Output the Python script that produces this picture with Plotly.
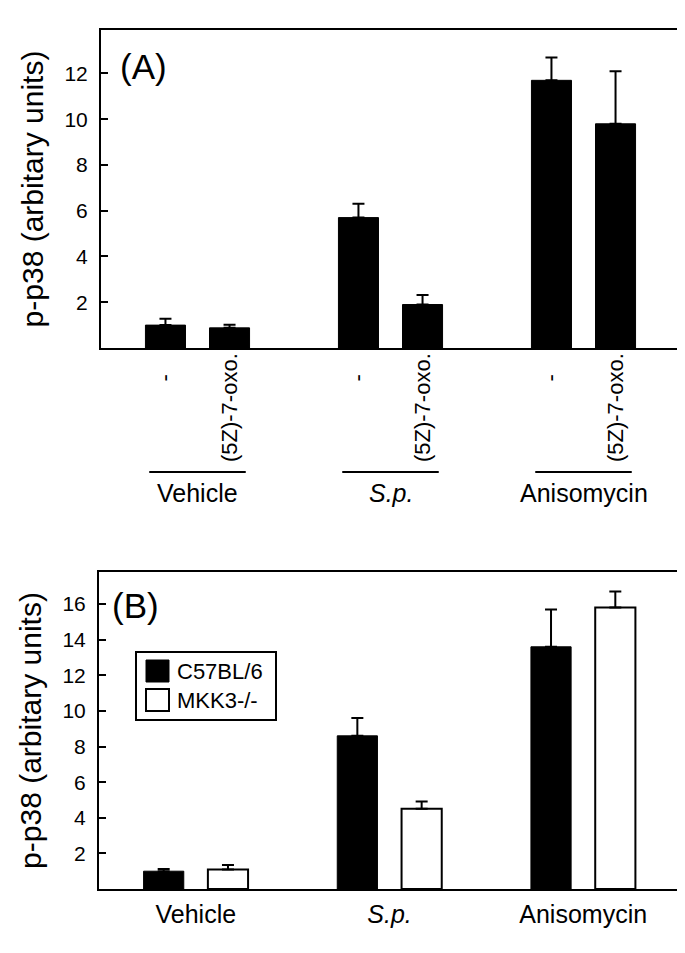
import plotly.graph_objects as go

# ---- data ----
groups = ["Vehicle", "S.p.", "Anisomycin"]
group_ticktext = ["Vehicle", "<i>S.p.</i>", "Anisomycin"]
treat_labels = ["-", "(5Z)-7-oxo."]

# Panel A
a_ctrl = [1.0, 5.7, 11.7]
a_ctrl_err = [0.28, 0.6, 1.0]
a_oxo = [0.88, 1.9, 9.8]
a_oxo_err = [0.14, 0.42, 2.3]

# Panel B
b_wt_name = "C57BL/6"
b_ko_name = "MKK3-/-"
b_wt = [1.0, 8.6, 13.6]
b_wt_err = [0.13, 1.0, 2.1]
b_ko = [1.1, 4.5, 15.8]
b_ko_err = [0.25, 0.42, 0.9]

ytitle = "p-p38 (arbitary units)"
a_yticks = [2, 4, 6, 8, 10, 12]
b_yticks = [2, 4, 6, 8, 10, 12, 14, 16]

# ---- layout helpers ----
W, H = 685, 953
FONT = "Liberation Sans, Arial, Helvetica, sans-serif"
px = lambda x: x / W
py = lambda y: 1 - y / H
xs = list(range(len(groups)))
OFF = 0.166

def err(vals):
    return dict(type="data", array=vals, arrayminus=[0] * len(vals), symmetric=False,
                color="black", thickness=2, width=6, visible=True)

fig = go.Figure()
fig.add_trace(go.Bar(x=xs, y=a_ctrl, name="-", marker=dict(color="black", line=dict(color="black", width=1)),
                     error_y=err(a_ctrl_err), xaxis="x", yaxis="y", showlegend=False))
fig.add_trace(go.Bar(x=xs, y=a_oxo, name="(5Z)-7-oxo.", marker=dict(color="black", line=dict(color="black", width=1)),
                     error_y=err(a_oxo_err), xaxis="x", yaxis="y", showlegend=False))
fig.add_trace(go.Bar(x=xs, y=b_wt, name=b_wt_name, marker=dict(color="black", line=dict(color="black", width=1)),
                     error_y=err(b_wt_err), xaxis="x2", yaxis="y2", showlegend=False))
fig.add_trace(go.Bar(x=xs, y=b_ko, name=b_ko_name, marker=dict(color="white", line=dict(color="black", width=2)),
                     error_y=err(b_ko_err), xaxis="x2", yaxis="y2", showlegend=False))

axline = dict(showline=True, mirror=True, linecolor="black", linewidth=2, showgrid=False, zeroline=False)
yax = dict(ticks="inside", ticklen=7, tickwidth=2, tickcolor="black", ticklabelstandoff=7,
           tickfont=dict(family=FONT, size=21, color="black"),
           title=dict(text=ytitle, font=dict(family=FONT, size=30, color="black"), standoff=12),
           **axline)

fig.update_layout(
    width=W, height=H, margin=dict(l=0, r=0, t=0, b=0),
    paper_bgcolor="white", plot_bgcolor="white",
    barmode="group", bargap=0.336, bargroupgap=0.375,
    font=dict(family=FONT, color="black"),
    xaxis=dict(domain=[px(93), px(672)], range=[-0.5, 2.5], anchor="y",
               showticklabels=False, ticks="", **axline),
    yaxis=dict(domain=[py(340), py(22)], range=[0, 13.9], anchor="x", tickvals=a_yticks, **yax),
    xaxis2=dict(domain=[px(91), px(672)], range=[-0.5, 2.5], anchor="y2",
                tickvals=xs, ticktext=group_ticktext, ticks="", ticklabelstandoff=2,
                tickfont=dict(family=FONT, size=25, color="black"), **axline),
    yaxis2=dict(domain=[py(881), py(564)], range=[0, 17.8], anchor="x2", tickvals=b_yticks, **yax),
)

ann = []
shapes = []
# Panel letters
ann.append(dict(text="(A)", x=px(110), y=py(58), xref="paper", yref="paper", xanchor="left", yanchor="middle",
                showarrow=False, font=dict(family=FONT, size=35, color="black")))
ann.append(dict(text="(B)", x=px(102), y=py(597), xref="paper", yref="paper", xanchor="left", yanchor="middle",
                showarrow=False, font=dict(family=FONT, size=35, color="black")))

# Panel A treatment labels and group labels
for i, g in enumerate(xs):
    ann.append(dict(text=treat_labels[0], x=g - OFF, y=py(370), xref="x", yref="paper", textangle=-90,
                    xanchor="center", yanchor="middle", showarrow=False,
                    font=dict(family=FONT, size=22, color="black")))
    ann.append(dict(text=treat_labels[1], x=g + OFF, y=py(343), xref="x", yref="paper", textangle=-90,
                    xanchor="center", yanchor="top", showarrow=False,
                    font=dict(family=FONT, size=22, color="black")))
    shapes.append(dict(type="line", xref="x", yref="paper", x0=g - 0.25, x1=g + 0.25,
                       y0=py(464), y1=py(464), line=dict(color="black", width=2)))
    ann.append(dict(text=group_ticktext[i], x=g, y=py(485), xref="x", yref="paper",
                    xanchor="center", yanchor="middle", showarrow=False,
                    font=dict(family=FONT, size=25, color="black")))

# Panel B legend (drawn)
shapes.append(dict(type="rect", xref="paper", yref="paper", x0=px(128), x1=px(268), y0=py(712), y1=py(644),
                   line=dict(color="black", width=2), fillcolor="white"))
shapes.append(dict(type="rect", xref="paper", yref="paper", x0=px(138), x1=px(161), y0=py(674), y1=py(652),
                   line=dict(color="black", width=1), fillcolor="black"))
shapes.append(dict(type="rect", xref="paper", yref="paper", x0=px(138), x1=px(161), y0=py(703), y1=py(681),
                   line=dict(color="black", width=2), fillcolor="white"))
ann.append(dict(text=b_wt_name, x=px(167), y=py(663), xref="paper", yref="paper", xanchor="left", yanchor="middle",
                showarrow=False, font=dict(family=FONT, size=22, color="black")))
ann.append(dict(text=b_ko_name, x=px(167), y=py(692), xref="paper", yref="paper", xanchor="left", yanchor="middle",
                showarrow=False, font=dict(family=FONT, size=22, color="black")))

fig.update_layout(annotations=ann, shapes=shapes)
fig.write_html("out.html")
